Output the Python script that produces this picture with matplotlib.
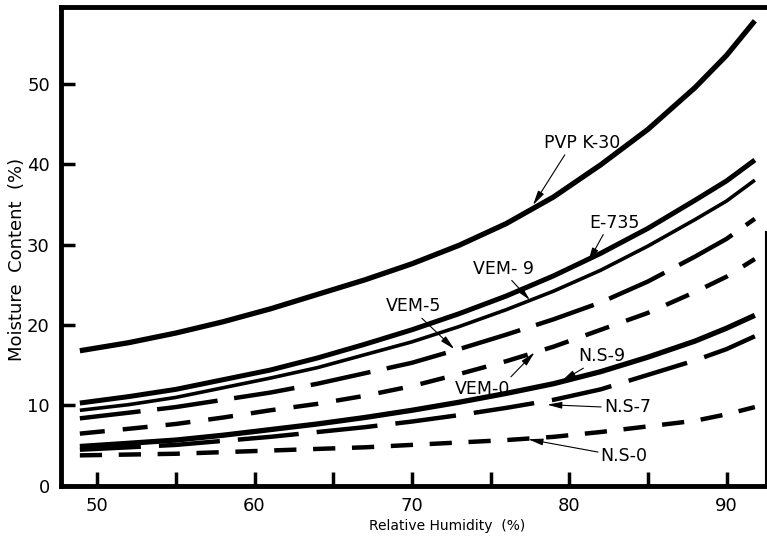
import matplotlib
matplotlib.use('Agg')
import matplotlib.pyplot as plt
from matplotlib.ticker import FixedLocator

plt.rcParams['font.family'] = ['DejaVu Sans']
plt.rcParams['lines.scale_dashes'] = False

# relative humidity (%) where the curves were read
rh = [48.9, 52, 55, 58, 61, 64, 67, 70, 73, 76, 79, 82, 85, 88, 90, 91.8]

# moisture content (%) for each polymer
pvp_k30 = [16.8, 17.8, 19.0, 20.4, 22.0, 23.8, 25.6, 27.6, 29.9, 32.6, 35.9, 39.9, 44.3, 49.5, 53.5, 57.8]
e_735 = [10.3, 11.1, 12.0, 13.2, 14.4, 15.9, 17.6, 19.4, 21.4, 23.6, 26.1, 28.9, 32.0, 35.5, 37.9, 40.5]
vem_9 = [9.4, 10.1, 11.0, 12.2, 13.4, 14.7, 16.3, 17.9, 19.8, 21.9, 24.2, 26.8, 29.8, 33.1, 35.4, 38.0]
vem_5 = [8.4, 9.1, 9.8, 10.7, 11.6, 12.7, 14.0, 15.3, 17.0, 18.8, 20.7, 22.8, 25.4, 28.5, 30.7, 33.2]
vem_0 = [6.5, 7.1, 7.7, 8.5, 9.4, 10.2, 11.2, 12.4, 13.9, 15.5, 17.3, 19.4, 21.5, 24.1, 26.0, 28.2]
ns_9 = [4.9, 5.3, 5.7, 6.3, 7.0, 7.7, 8.5, 9.4, 10.4, 11.5, 12.7, 14.2, 16.0, 18.0, 19.6, 21.2]
ns_7 = [4.5, 4.8, 5.1, 5.6, 6.1, 6.7, 7.3, 8.0, 8.8, 9.7, 10.7, 12.0, 13.8, 15.6, 17.0, 18.6]
ns_0 = [3.8, 3.9, 4.0, 4.2, 4.4, 4.6, 4.8, 5.1, 5.4, 5.7, 6.1, 6.7, 7.4, 8.1, 8.9, 9.8]

x_ticks = [50, 60, 70, 80, 90]
x_minor = [55, 65, 75, 85]
y_ticks = [0, 10, 20, 30, 40, 50]

fig = plt.figure(figsize=(7.67, 5.46), dpi=100)
ax = fig.add_axes([0.0795, 0.110, 0.919, 0.877])

solid = dict(color='black', solid_capstyle='butt')
dash = dict(color='black', dash_capstyle='butt')

ax.plot(rh, pvp_k30, lw=3.8, **solid)
ax.plot(rh, e_735, lw=3.6, **solid)
ax.plot(rh, vem_9, lw=2.6, **solid)
ax.plot(rh, vem_5, lw=3.2, linestyle=(0, (44, 12)), **dash)
ax.plot(rh, vem_0, lw=3.2, linestyle=(0, (18, 13)), **dash)
ax.plot(rh, ns_9, lw=3.8, **solid)
ax.plot(rh, ns_7, lw=3.2, linestyle=(0, (44, 13)), **dash)
ax.plot(rh, ns_0, lw=3.2, linestyle=(0, (16, 12)), **dash)

arrow = dict(arrowstyle='-|>,head_length=0.7,head_width=0.16', color='black',
             lw=0.8, shrinkA=0, shrinkB=0)
notes = [
    ('PVP K-30', (77.7, 34.9), (80.8, 42.6), (0.3, 0.0)),
    ('E-735', (81.2, 27.8), (82.9, 32.7), (0.3, 0.0)),
    ('VEM- 9', (77.5, 23.1), (75.8, 27.0), (0.6, 0.0)),
    ('VEM-5', (72.7, 17.0), (70.1, 22.3), (0.6, 0.0)),
    ('VEM-0', (77.8, 16.6), (74.5, 12.1), (0.9, 0.8)),
    ('N.S-9', (79.5, 13.0), (82.1, 16.1), (0.2, 0.0)),
    ('N.S-7', (78.6, 10.1), (83.7, 9.8), (0.0, 0.5)),
    ('N.S-0', (77.4, 5.8), (83.5, 3.7), (0.0, 0.7)),
]
for label, tip, pos, rel in notes:
    ax.annotate(label, xy=tip, xytext=pos, ha='center', va='center',
                fontsize=12.5, arrowprops=dict(arrow, relpos=rel))

ax.set_xlim(47.7, 92.5)
ax.set_ylim(0, 59.5)
ax.xaxis.set_major_locator(FixedLocator(x_ticks))
ax.xaxis.set_minor_locator(FixedLocator(x_minor))
ax.yaxis.set_major_locator(FixedLocator(y_ticks))
ax.tick_params(axis='both', which='both', direction='in', length=10, width=2.5,
               labelsize=13, pad=8)

for side in ['left', 'bottom', 'top']:
    ax.spines[side].set_linewidth(3.5)
ax.spines['right'].set_linewidth(1.5)
ax.spines['right'].set_bounds(0, 31.5)

ax.set_xlabel('Relative Humidity  (%)', fontsize=10)
ax.xaxis.set_label_coords(0.548, -0.070)
ax.set_ylabel('Moisture  Content  (%)', fontsize=13)
ax.yaxis.set_label_coords(-0.050, 0.472)

fig.savefig('out.png', dpi=100)
